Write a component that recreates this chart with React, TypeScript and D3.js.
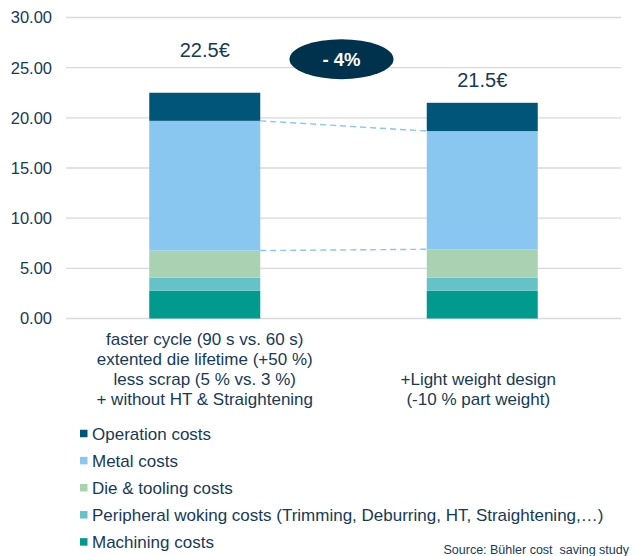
import React from "react";
import * as d3 from "d3";

const categories = ["before", "after"];
const categoryLabels: string[][] = [
  [
    "faster cycle (90 s vs. 60 s)",
    "extented die lifetime (+50 %)",
    "less scrap (5 % vs. 3 %)",
    "+ without HT & Straightening",
  ],
  ["+Light weight design", "(-10 % part weight)"],
];
const seriesNames = [
  "Machining costs",
  "Peripheral woking costs (Trimming, Deburring, HT, Straightening,…)",
  "Die & tooling costs",
  "Metal costs",
  "Operation costs",
];
const machining = [2.77, 2.77];
const peripheral = [1.3, 1.3];
const dieTooling = [2.7, 2.83];
const metal = [12.93, 11.78];
const operation = [2.8, 2.82];
const totalLabels = ["22.5€", "21.5€"];
const totalLabelAt = [26.1, 23.1];
const reductionLabel = "- 4%";
const reductionAt = 25.85;
const yTicks = [0, 5, 10, 15, 20, 25, 30];
const sourceText = "Source: Bühler cost  saving study";

const colors = ["#009b8f", "#65c3c8", "#a9d2b3", "#89c6f0", "#005578"];
const textColor = "#173a56";
const font = "'Liberation Sans', Arial, sans-serif";

export default function App() {
  const W = 635;
  const H = 556;
  const seriesValues = [machining, peripheral, dieTooling, metal, operation];
  const rows = categories.map((c, i) => {
    const r: any = { cat: c };
    seriesNames.forEach((s, j) => (r[s] = seriesValues[j][i]));
    return r;
  });
  const stack = d3.stack<any>().keys(seriesNames)(rows);

  const y = d3.scaleLinear().domain([0, 30]).range([318.5, 17.5]);
  const x = d3.scaleBand().domain(categories).range([66, 621]).padding(0);
  const bw = x.bandwidth() * 0.4;
  const cx = (c: string) => (x(c) as number) + x.bandwidth() / 2;

  const metalLayer = stack[3];
  const midX = (cx(categories[0]) + cx(categories[1])) / 2 - 2;

  return (
    <svg
      width={W}
      height={H}
      style={{ position: "absolute", left: 0, top: 0, background: "#fff" }}
      fontFamily={font}
    >
      {yTicks.map((t) => (
        <g key={t}>
          <line x1={66} x2={621} y1={y(t)} y2={y(t)} stroke="#d9d9d9" strokeWidth={1.3} />
          <text
            x={52}
            y={y(t)}
            dy="0.36em"
            textAnchor="end"
            fontSize={16.5}
            fill={textColor}
          >
            {d3.format(".2f")(t)}
          </text>
        </g>
      ))}

      {stack.map((layer, li) =>
        layer.map((d, i) => (
          <rect
            key={li + "-" + i}
            x={cx(categories[i]) - bw / 2}
            y={y(d[1])}
            width={bw}
            height={y(d[0]) - y(d[1])}
            fill={colors[li]}
          />
        ))
      )}

      {[1, 0].map((k) => (
        <line
          key={k}
          x1={cx(categories[0]) + bw / 2}
          x2={cx(categories[1]) - bw / 2}
          y1={y(metalLayer[0][k])}
          y2={y(metalLayer[1][k])}
          stroke="#89c6f0"
          strokeWidth={1.4}
          strokeDasharray="6,4"
        />
      ))}

      {categories.map((c, i) => (
        <text
          key={c}
          x={cx(c)}
          y={y(totalLabelAt[i])}
          textAnchor="middle"
          fontSize={20}
          fill={textColor}
        >
          {totalLabels[i]}
        </text>
      ))}

      <ellipse cx={midX} cy={y(reductionAt)} rx={52} ry={20} fill="#01324d" />
      <text
        x={midX}
        y={y(reductionAt)}
        dy="0.37em"
        textAnchor="middle"
        fontSize={18.5}
        fontWeight="bold"
        fill="#ffffff"
      >
        {reductionLabel}
      </text>

      {categories.map((c, i) => {
        const lines = categoryLabels[i];
        const startLine = 4 - lines.length;
        return (
          <text key={c} textAnchor="middle" fontSize={17} fill={textColor}>
            {lines.map((l, k) => (
              <tspan key={k} x={cx(c) - (i === 1 ? 4 : 0)} y={344.5 + (startLine + k) * 20}>
                {l}
              </tspan>
            ))}
          </text>
        );
      })}

      {seriesNames
        .slice()
        .reverse()
        .map((s, k) => {
          const ci = seriesNames.length - 1 - k;
          const cy = 433.5 + k * 27.1;
          return (
            <g key={s}>
              <rect x={80} y={cy - 3.75} width={7.5} height={7.5} fill={colors[ci]} />
              <text x={92} y={cy + 6} fontSize={17} fill={textColor}>
                {s}
              </text>
            </g>
          );
        })}

      <text
        x={629}
        y={554}
        textAnchor="end"
        fontSize={12.5}
        fill={textColor}
        style={{ whiteSpace: "pre" }}
      >
        {sourceText}
      </text>
    </svg>
  );
}
